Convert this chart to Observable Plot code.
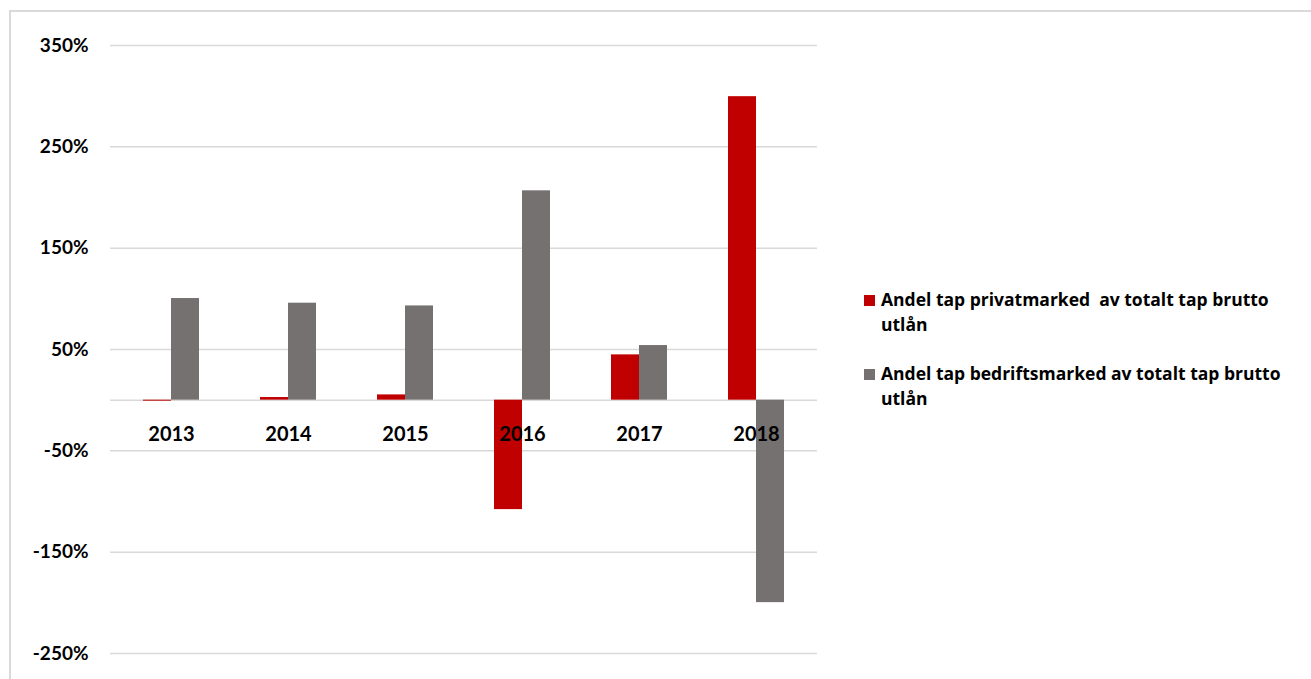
<!DOCTYPE html>
<html>
<head>
<meta charset="utf-8">
<script src="https://cdn.jsdelivr.net/npm/d3@7"></script>
<script src="https://cdn.jsdelivr.net/npm/@observablehq/plot@0.6"></script>
<style>
  html, body { margin: 0; padding: 0; background: #fff; }
  #frame { position: absolute; left: 9px; top: 10px; width: 1310px; height: 680px; border-left: 2px solid #d9d9d9; border-top: 2px solid #d9d9d9; box-sizing: border-box; }
  #chart { position: absolute; left: 0; top: 0; }
  #legend { position: absolute; left: 864px; top: 287px; font-family: "Open Sans", Lato, sans-serif; font-weight: bold; font-size: 17.5px; color: #000; line-height: 25px; }
  .item { position: relative; padding-left: 17px; margin-bottom: 24px; white-space: nowrap; }
  .sw { position: absolute; left: 0; top: 8px; width: 11px; height: 11px; }
</style>
</head>
<body>
<div id="frame"></div>
<div id="chart"></div>
<div id="legend"></div>
<script>
const years = ["2013", "2014", "2015", "2016", "2017", "2018"];
const seriesNames = [
  "Andel tap privatmarked  av totalt tap brutto utlån",
  "Andel tap bedriftsmarked av totalt tap brutto utlån"
];
const privat = [-1, 2.6, 5.2, -108, 44.7, 299.5];
const bedrift = [100.3, 95.7, 93, 206.6, 53.9, -199.8];
const yTicks = [-250, -150, -50, 50, 150, 250, 350];
const colors = ["#c00000", "#767171"];

const privatRows = years.map((y, i) => ({year: y, value: privat[i]}));
const bedriftRows = years.map((y, i) => ({year: y, value: bedrift[i]}));

const chart = Plot.plot({
  width: 1311,
  height: 679,
  marginLeft: 110,
  marginRight: 494,
  marginTop: 45,
  marginBottom: 26,
  style: {fontFamily: "Lato, 'Open Sans', sans-serif", fontWeight: "bold", fontSize: "19px", color: "#000", background: "transparent"},
  x: {domain: years, paddingInner: 0.762, paddingOuter: 0.381, axis: null},
  y: {domain: [-250, 350], axis: null},
  marks: [
    Plot.gridY(yTicks, {stroke: "#d9d9d9", strokeOpacity: 1, strokeWidth: 1.5}),
    Plot.ruleY([0], {stroke: "#d9d9d9", strokeWidth: 1.5}),
    Plot.axisY(yTicks, {tickSize: 0, tickPadding: 22, label: null, tickFormat: d => d + "%", fontSize: 19, fontWeight: "bold", fill: "#000"}),
    Plot.barY(privatRows, {x: "year", y: "value", fill: colors[0], dx: -14}),
    Plot.barY(bedriftRows, {x: "year", y: "value", fill: colors[1], dx: 14}),
    Plot.text(years, {x: d => d, y: 0, dy: 34, text: d => d, fontSize: 20, fontWeight: "bold", fill: "#000"})
  ]
});
document.getElementById("chart").appendChild(chart);

const legend = document.getElementById("legend");
seriesNames.forEach((name, i) => {
  const idx = name.lastIndexOf(" ");
  const div = document.createElement("div");
  div.className = "item";
  div.innerHTML = `<span class="sw" style="background:${colors[i]}"></span>` +
    name.slice(0, idx).replace(/  /g, " &nbsp;") + "<br>" + name.slice(idx + 1);
  legend.appendChild(div);
});
</script>
</body>
</html>
